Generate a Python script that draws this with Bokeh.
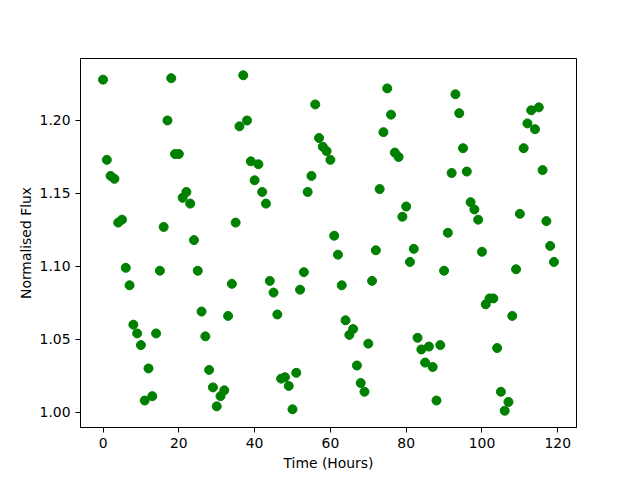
from bokeh.plotting import figure
from bokeh.models import FixedTicker, PrintfTickFormatter, Range1d
from bokeh.embed import file_html
from bokeh.resources import INLINE

hours = list(range(120))
flux = [
    1.228, 1.173, 1.162, 1.160, 1.130, 1.132, 1.099, 1.087, 1.060, 1.054,
    1.046, 1.008, 1.030, 1.011, 1.054, 1.097, 1.127, 1.200, 1.229, 1.177,
    1.177, 1.147, 1.151, 1.143, 1.118, 1.097, 1.069, 1.052, 1.029, 1.017,
    1.004, 1.011, 1.015, 1.066, 1.088, 1.130, 1.196, 1.231, 1.200, 1.172,
    1.159, 1.170, 1.151, 1.143, 1.090, 1.082, 1.067, 1.023, 1.024, 1.018,
    1.002, 1.027, 1.084, 1.096, 1.151, 1.162, 1.211, 1.188, 1.182, 1.179,
    1.173, 1.121, 1.108, 1.087, 1.063, 1.053, 1.057, 1.032, 1.020, 1.014,
    1.047, 1.090, 1.111, 1.153, 1.192, 1.222, 1.204, 1.178, 1.175, 1.134,
    1.141, 1.103, 1.112, 1.051, 1.043, 1.034, 1.045, 1.031, 1.008, 1.046,
    1.097, 1.123, 1.164, 1.218, 1.205, 1.181, 1.165, 1.144, 1.139, 1.132,
    1.110, 1.074, 1.078, 1.078, 1.044, 1.014, 1.001, 1.007, 1.066, 1.098,
    1.136, 1.181, 1.198, 1.207, 1.194, 1.209, 1.166, 1.131, 1.114, 1.103,
]
x_ticks = [0, 20, 40, 60, 80, 100, 120]
y_ticks = [1.00, 1.05, 1.10, 1.15, 1.20]
x_label = "Time (Hours)"
y_label = "Normalised Flux"

p = figure(
    output_backend="svg", toolbar_location=None,
    frame_width=496, frame_height=369,
    min_border_left=80, min_border_right=48, min_border_top=58, min_border_bottom=45,
    x_range=Range1d(-5.95, 124.95), y_range=Range1d(0.9895, 1.2425),
)
p.scatter(hours, flux, size=9, color="green", line_color="green")

p.xgrid.visible = False
p.ygrid.visible = False
p.outline_line_color = "black"
p.outline_line_width = 1
p.outline_line_alpha = 1.0

p.xaxis.ticker = FixedTicker(ticks=x_ticks)
p.yaxis.ticker = FixedTicker(ticks=y_ticks)
p.yaxis.formatter = PrintfTickFormatter(format="%.2f")
p.xaxis.axis_label = x_label
p.yaxis.axis_label = y_label

for ax in (p.xaxis, p.yaxis):
    ax.axis_line_color = "black"
    ax.major_tick_line_color = "black"
    ax.major_tick_out = 5
    ax.major_tick_in = 0
    ax.minor_tick_line_color = None
    ax.major_label_text_font = "DejaVu Sans"
    ax.major_label_text_font_size = "13.9px"
    ax.major_label_text_color = "black"
    ax.axis_label_text_font = "DejaVu Sans"
    ax.axis_label_text_font_size = "13.9px"
    ax.axis_label_text_font_style = "normal"
    ax.axis_label_text_color = "black"
    ax.major_label_standoff = 5
p.xaxis.axis_label_standoff = 4
p.yaxis.axis_label_standoff = 3

open("out.html", "w").write(file_html(p, INLINE))
